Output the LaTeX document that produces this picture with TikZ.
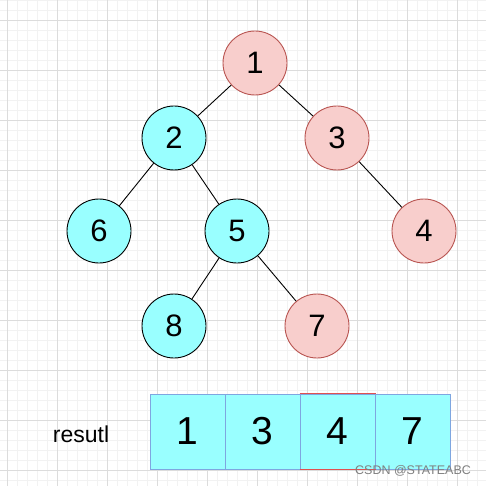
\documentclass[tikz,border=0pt]{standalone}
\usepackage{fontspec}
\setmainfont{Liberation Sans}
\definecolor{pinkfill}{HTML}{F8CECC}
\definecolor{pinkline}{HTML}{B85450}
\definecolor{cyanfill}{HTML}{99FFFF}
\definecolor{boxline}{HTML}{7EA6E0}
\definecolor{redline}{HTML}{E05050}
\definecolor{minorgrid}{HTML}{F2F2F2}
\definecolor{majorgrid}{HTML}{DCDCDC}
\begin{document}
\begin{tikzpicture}[x=1pt,y=-1pt,
  treenode/.style={circle,minimum size=64pt,inner sep=0pt,line width=0.9pt,font=\fontsize{31}{31}\selectfont},
  pinknode/.style={treenode,fill=pinkfill,draw=pinkline},
  cyannode/.style={treenode,fill=cyanfill,draw=black},
  cell/.style={rectangle,minimum width=75pt,minimum height=75pt,inner sep=0pt,fill=cyanfill,draw=boxline,line width=1pt,font=\fontsize{39}{39}\selectfont},
  edge/.style={draw=black,line width=0.9pt}]
\useasboundingbox (0,0) rectangle (486,486);
\fill[white] (0,0) rectangle (486,486);
% grid
\foreach \x in {7,17,...,486} \draw[minorgrid,line width=0.8pt] (\x,0) -- (\x,486);
\foreach \y in {0,10,...,486} \draw[minorgrid,line width=0.8pt] (0,\y) -- (486,\y);
\foreach \x in {7,57,...,486} \draw[majorgrid,line width=0.8pt] (\x,0) -- (\x,486);
\foreach \y in {20,70,...,486} \draw[majorgrid,line width=0.8pt] (0,\y) -- (486,\y);
% tree
\node[pinknode] (n1) at (255,63) {1};
\node[cyannode] (n2) at (174,138) {2};
\node[pinknode] (n3) at (337,138) {3};
\node[cyannode] (n6) at (99,231) {6};
\node[cyannode] (n5) at (237,231) {5};
\node[pinknode] (n4) at (424,231) {4};
\node[cyannode] (n8) at (174,326) {8};
\node[pinknode] (n7) at (317,326) {7};
\draw[edge] (n1) -- (n2);
\draw[edge] (n1) -- (n3);
\draw[edge] (n2) -- (n6);
\draw[edge] (n2) -- (n5);
\draw[edge] (n3) -- (n4);
\draw[edge] (n5) -- (n8);
\draw[edge] (n5) -- (n7);
% array
\node[font=\fontsize{23}{23}\selectfont] (lbl) at (81,434) {resutl};
\node[cell] (c1) at (187.5,431.5) {1};
\node[cell] (c2) at (262.5,431.5) {3};
\node[cell] (c3) at (337.5,431.5) {4};
\node[cell] (c4) at (412.5,431.5) {7};
\draw[redline,line width=1pt] (c3.north west) -- (c3.north east);
\draw[redline,line width=1pt] (c3.south west) -- (c3.south east);
\node[text=black!50,font=\fontsize{12.5}{12.5}\selectfont] (wm) at (413,471) {CSDN @STATEABC};
\end{tikzpicture}
\end{document}
